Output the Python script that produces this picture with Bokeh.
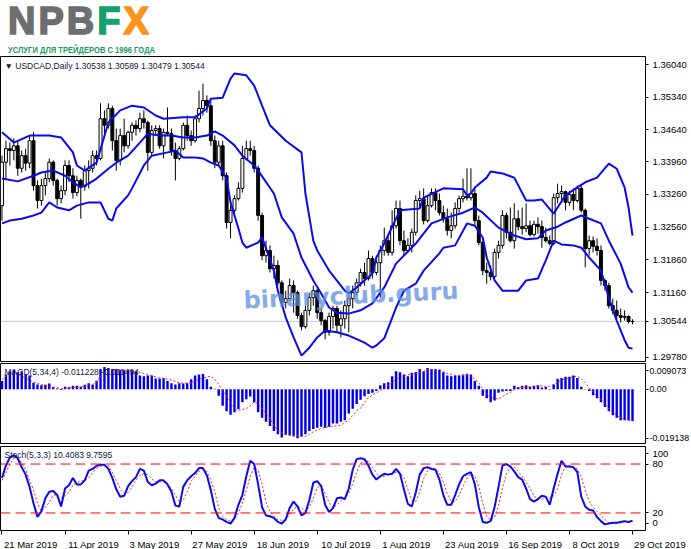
from bokeh.plotting import figure
from bokeh.layouts import column
from bokeh.models import Range1d, FixedTicker, Span, Label, Div
from bokeh.embed import file_html
from bokeh.resources import INLINE

# ---------------- data ----------------
symbol_title = "USDCAD,Daily"
last_ohlc = [1.30538, 1.30589, 1.30479, 1.30544]
logo_parts = [("NPB", "#6d6e70"), ("F", "#16a06c"), ("X", "#f7941d")]
logo_tagline = "УСЛУГИ ДЛЯ ТРЕЙДЕРОВ С 1996 ГОДА"
date_ticks = [0, 16, 32, 48, 64, 80, 96, 112, 128, 144, 160]
date_labels = ["21 Mar 2019", "11 Apr 2019", "3 May 2019", "27 May 2019", "18 Jun 2019",
               "10 Jul 2019", "1 Aug 2019", "23 Aug 2019", "16 Sep 2019", "8 Oct 2019", "29 Oct 2019"]
price_ticks = [1.36040, 1.35340, 1.34640, 1.33960, 1.33260, 1.32560, 1.31860, 1.31160, 1.29780]

opens = [1.3302,1.3395,1.3424,1.3420,1.3430,1.3382,1.3409,1.3393,1.3441,1.3345,
         1.3313,1.3345,1.3360,1.3395,1.3356,1.3317,1.3334,1.3388,1.3366,1.3330,
         1.3356,1.3343,1.3377,1.3382,1.3409,1.3403,1.3488,1.3474,1.3510,1.3441,
         1.3399,1.3452,1.3430,1.3459,1.3474,1.3467,1.3488,1.3480,1.3416,1.3463,
         1.3467,1.3430,1.3459,1.3456,1.3420,1.3403,1.3424,1.3474,1.3452,1.3441,
         1.3488,1.3510,1.3527,1.3516,1.3441,1.3395,1.3430,1.3366,1.3266,1.3292,
         1.3317,1.3339,1.3403,1.3424,1.3420,1.3382,1.3281,1.3195,1.3206,1.3167,
         1.3174,1.3137,1.3095,1.3103,1.3131,1.3116,1.3067,1.3043,1.3078,1.3105,
         1.3120,1.3073,1.3056,1.3031,1.3065,1.3082,1.3046,1.3060,1.3088,1.3103,
         1.3116,1.3137,1.3159,1.3146,1.3189,1.3159,1.3180,1.3206,1.3227,1.3202,
         1.3259,1.3296,1.3227,1.3206,1.3217,1.3245,1.3313,1.3317,1.3270,1.3302,
         1.3330,1.3313,1.3287,1.3274,1.3249,1.3259,1.3296,1.3317,1.3322,1.3319,
         1.3328,1.3270,1.3223,1.3163,1.3159,1.3150,1.3202,1.3217,1.3281,1.3245,
         1.3227,1.3274,1.3257,1.3253,1.3259,1.3240,1.3262,1.3257,1.3234,1.3227,
         1.3221,1.3319,1.3328,1.3332,1.3309,1.3326,1.3313,1.3339,1.3292,1.3210,
         1.3227,1.3215,1.3206,1.3142,1.3131,1.3088,1.3078,1.3067,1.3063,1.3065,1.30538]
highs = [1.3409,1.3441,1.3437,1.3446,1.3441,1.3420,1.3424,1.3452,1.3459,1.3356,
         1.3360,1.3373,1.3403,1.3399,1.3360,1.3345,1.3399,1.3399,1.3382,1.3366,
         1.3360,1.3388,1.3399,1.3420,1.3420,1.3521,1.3506,1.3521,1.3516,1.3467,
         1.3467,1.3488,1.3463,1.3480,1.3484,1.3501,1.3506,1.3484,1.3474,1.3474,
         1.3474,1.3467,1.3512,1.3467,1.3437,1.3430,1.3480,1.3495,1.3463,1.3495,
         1.3548,1.3563,1.3538,1.3527,1.3452,1.3441,1.3441,1.3373,1.3302,1.3324,
         1.3352,1.3430,1.3441,1.3441,1.3430,1.3388,1.3287,1.3227,1.3217,1.3195,
         1.3185,1.3142,1.3120,1.3146,1.3142,1.3120,1.3073,1.3088,1.3116,1.3131,
         1.3125,1.3082,1.3060,1.3073,1.3088,1.3088,1.3078,1.3099,1.3110,1.3131,
         1.3146,1.3167,1.3180,1.3206,1.3195,1.3195,1.3217,1.3255,1.3238,1.3292,
         1.3313,1.3313,1.3249,1.3232,1.3253,1.3324,1.3334,1.3339,1.3324,1.3339,
         1.3339,1.3328,1.3302,1.3296,1.3287,1.3309,1.3324,1.3360,1.3382,1.3382,
         1.3339,1.3281,1.3227,1.3180,1.3174,1.3210,1.3227,1.3292,1.3287,1.3298,
         1.3307,1.3292,1.3298,1.3307,1.3270,1.3270,1.3277,1.3270,1.3255,1.3238,
         1.3328,1.3349,1.3345,1.3334,1.3334,1.3339,1.3345,1.3345,1.3296,1.3238,
         1.3236,1.3232,1.3217,1.3146,1.3137,1.3103,1.3099,1.3082,1.3078,1.3067,1.30589]
lows = [1.3270,1.3360,1.3388,1.3399,1.3366,1.3373,1.3377,1.3382,1.3334,1.3296,
        1.3302,1.3324,1.3352,1.3345,1.3302,1.3307,1.3324,1.3352,1.3317,1.3322,
        1.3274,1.3334,1.3339,1.3373,1.3388,1.3399,1.3446,1.3467,1.3420,1.3377,
        1.3388,1.3416,1.3424,1.3441,1.3452,1.3459,1.3467,1.3377,1.3409,1.3452,
        1.3424,1.3403,1.3452,1.3409,1.3356,1.3399,1.3420,1.3441,1.3430,1.3437,
        1.3480,1.3495,1.3501,1.3430,1.3382,1.3388,1.3356,1.3253,1.3232,1.3281,
        1.3313,1.3330,1.3399,1.3409,1.3373,1.3270,1.3185,1.3180,1.3159,1.3146,
        1.3131,1.3086,1.3082,1.3099,1.3073,1.3060,1.3035,1.3039,1.3067,1.3088,
        1.3060,1.3046,1.3016,1.3024,1.3039,1.3031,1.3020,1.3039,1.3031,1.3082,
        1.3110,1.3129,1.3131,1.3142,1.3146,1.3153,1.3105,1.3195,1.3195,1.3195,
        1.3253,1.3217,1.3195,1.3202,1.3202,1.3238,1.3296,1.3262,1.3266,1.3298,
        1.3292,1.3281,1.3266,1.3238,1.3232,1.3253,1.3287,1.3309,1.3313,1.3313,
        1.3259,1.3217,1.3153,1.3135,1.3142,1.3146,1.3189,1.3210,1.3232,1.3223,
        1.3210,1.3249,1.3240,1.3245,1.3236,1.3236,1.3242,1.3212,1.3223,1.3217,
        1.3217,1.3307,1.3313,1.3292,1.3302,1.3292,1.3309,1.3287,1.3170,1.3195,
        1.3202,1.3195,1.3131,1.3120,1.3082,1.3069,1.3060,1.3052,1.3056,1.3050,1.30479]
closes = [1.3395,1.3424,1.3420,1.3430,1.3382,1.3409,1.3393,1.3441,1.3345,1.3313,
          1.3345,1.3360,1.3395,1.3356,1.3317,1.3334,1.3388,1.3366,1.3330,1.3356,
          1.3343,1.3377,1.3382,1.3409,1.3403,1.3488,1.3474,1.3510,1.3441,1.3399,
          1.3452,1.3430,1.3459,1.3474,1.3467,1.3488,1.3480,1.3416,1.3463,1.3467,
          1.3430,1.3459,1.3456,1.3420,1.3403,1.3424,1.3474,1.3452,1.3441,1.3488,
          1.3510,1.3527,1.3516,1.3441,1.3395,1.3430,1.3366,1.3266,1.3292,1.3317,
          1.3339,1.3403,1.3424,1.3420,1.3382,1.3281,1.3195,1.3206,1.3167,1.3174,
          1.3137,1.3095,1.3103,1.3131,1.3116,1.3067,1.3043,1.3078,1.3105,1.3120,
          1.3073,1.3056,1.3031,1.3065,1.3082,1.3046,1.3060,1.3088,1.3103,1.3116,
          1.3137,1.3159,1.3146,1.3189,1.3159,1.3180,1.3206,1.3227,1.3202,1.3259,
          1.3296,1.3227,1.3206,1.3217,1.3245,1.3313,1.3317,1.3270,1.3302,1.3330,
          1.3313,1.3287,1.3274,1.3249,1.3259,1.3296,1.3317,1.3322,1.3319,1.3328,
          1.3270,1.3223,1.3163,1.3159,1.3150,1.3202,1.3217,1.3281,1.3245,1.3227,
          1.3274,1.3257,1.3253,1.3259,1.3240,1.3262,1.3257,1.3234,1.3227,1.3221,
          1.3319,1.3328,1.3332,1.3309,1.3326,1.3313,1.3339,1.3292,1.3210,1.3227,
          1.3215,1.3206,1.3142,1.3131,1.3088,1.3078,1.3067,1.3063,1.3065,1.3054,1.30544]

bb_up_i = [0,3,7,12,15,18,19,21,24,27,30,33,36,39,41,46,49,52,53,56,58,59,62,64,66,68,72,76,77,79,
           80,83,87,88,90,94,95,97,101,106,107,112,117,118,119,120,123,124,127,130,133,135,137,140,141,
           143,146,148,151,154,156,158,159,160]
bb_up = [1.3459,1.3437,1.3452,1.3452,1.3448,1.3416,1.3388,1.3377,1.3394,1.3480,
         1.3506,1.3516,1.3512,1.3495,1.3488,1.3491,1.3491,1.3510,1.3531,1.3533,
         1.3574,1.3585,1.3581,1.3559,1.3516,1.3474,1.3441,1.3416,1.3328,1.3227,
         1.3206,1.3163,1.3120,1.3114,1.3127,1.3157,1.3191,1.3221,1.3292,1.3296,
         1.3319,1.3339,1.3337,1.3324,1.3328,1.3341,1.3362,1.3375,1.3371,1.3362,
         1.3313,1.3313,1.3315,1.3285,1.3298,1.3324,1.3341,1.3352,1.3362,1.3392,
         1.3381,1.3341,1.3298,1.3238]
bb_mid_i = [0,4,8,10,13,16,18,20,22,24,27,29,32,35,37,40,43,46,49,52,54,56,59,61,64,65,69,71,74,76,
            79,81,83,85,88,91,94,97,100,105,109,113,117,120,122,126,130,133,136,138,141,143,147,149,
            152,154,157,159,160]
bb_mid = [1.3360,1.3354,1.3366,1.3373,1.3377,1.3366,1.3352,1.3341,1.3349,1.3360,
          1.3381,1.3394,1.3409,1.3437,1.3456,1.3452,1.3452,1.3448,1.3448,1.3452,
          1.3461,1.3452,1.3431,1.3409,1.3388,1.3377,1.3328,1.3277,1.3242,1.3191,
          1.3142,1.3114,1.3084,1.3073,1.3071,1.3078,1.3093,1.3127,1.3178,1.3221,
          1.3264,1.3277,1.3287,1.3298,1.3287,1.3255,1.3238,1.3230,1.3232,1.3249,
          1.3257,1.3266,1.3281,1.3274,1.3264,1.3227,1.3178,1.3127,1.3116]
bb_lo_i = [0,2,5,8,10,12,14,17,19,22,25,27,28,29,32,33,36,38,42,44,46,49,51,53,55,57,58,60,61,62,
           65,66,69,70,72,74,76,78,80,82,85,88,92,94,95,97,100,102,105,107,111,112,115,118,120,122,
           123,125,127,131,133,136,138,140,142,145,147,149,152,154,156,158,159,160]
bb_lo = [1.3264,1.3270,1.3274,1.3281,1.3287,1.3309,1.3298,1.3292,1.3302,1.3309,
         1.3309,1.3274,1.3270,1.3296,1.3324,1.3339,1.3388,1.3409,1.3416,1.3420,
         1.3405,1.3405,1.3403,1.3394,1.3388,1.3360,1.3309,1.3253,1.3223,1.3212,
         1.3223,1.3234,1.3163,1.3120,1.3063,1.3020,1.2981,1.2998,1.3020,1.3035,
         1.3031,1.3024,1.3009,1.2998,1.3003,1.3018,1.3084,1.3120,1.3135,1.3163,
         1.3200,1.3212,1.3217,1.3264,1.3259,1.3234,1.3191,1.3142,1.3120,1.3120,
         1.3142,1.3146,1.3185,1.3227,1.3219,1.3217,1.3212,1.3191,1.3163,1.3105,
         1.3056,1.3014,1.2998,1.2996]

macd_title = "MACD(5,34,4) -0.011228 -0.011494"
macd_max, macd_min = 0.009073, -0.019138
macd_hist = [0.0029,0.0052,0.0063,0.0069,0.0060,0.0063,0.0052,0.0048,0.0023,0.0017,
             0.0014,0.0016,0.0020,0.0007,0.0003,-0.0003,0.0009,0.0007,0.0012,0.0012,
             0.0009,0.0016,0.0021,0.0016,0.0030,0.0071,0.0078,0.0075,0.0071,0.0071,
             0.0069,0.0069,0.0069,0.0067,0.0063,0.0048,0.0046,0.0048,0.0048,0.0038,
             0.0038,0.0039,0.0029,0.0021,0.0017,0.0021,0.0020,0.0021,0.0035,0.0048,
             0.0052,0.0054,0.0035,0.0009,0.0002,-0.0023,-0.0058,-0.0078,-0.0090,-0.0081,
             -0.0071,-0.0046,-0.0035,-0.0026,-0.0046,-0.0081,-0.0101,-0.0115,-0.0130,-0.0147,
             -0.0159,-0.0170,-0.0161,-0.0163,-0.0167,-0.0173,-0.0167,-0.0159,-0.0147,-0.0140,
             -0.0136,-0.0132,-0.0136,-0.0132,-0.0121,-0.0121,-0.0115,-0.0109,-0.0086,-0.0069,
             -0.0052,-0.0037,-0.0025,-0.0017,-0.0012,-0.0006,0.0014,0.0021,0.0025,0.0046,
             0.0063,0.0060,0.0052,0.0046,0.0058,0.0061,0.0071,0.0063,0.0075,0.0071,
             0.0071,0.0069,0.0060,0.0048,0.0046,0.0048,0.0048,0.0052,0.0055,0.0052,
             0.0029,0.0012,-0.0023,-0.0032,-0.0046,-0.0040,-0.0012,-0.0008,-0.0006,-0.0006,
             0.0012,0.0008,0.0012,0.0014,0.0008,0.0012,0.0014,0.0006,0.0008,-0.0002,
             0.0017,0.0037,0.0040,0.0044,0.0044,0.0048,0.0040,0.0009,0.0001,-0.0006,
             -0.0021,-0.0032,-0.0046,-0.0063,-0.0078,-0.0092,-0.0101,-0.0109,-0.0109,-0.0109,-0.011228]
macd_signal = [0.0035,0.0046,0.0058,0.0055,0.0052,0.0046,0.0039,0.0032,0.0026,0.0021,
               0.0016,0.0014,0.0012,0.0008,0.0005,0.0002,0.0003,0.0006,0.0006,0.0006,
               0.0008,0.0010,0.0014,0.0017,0.0023,0.0046,0.0055,0.0062,0.0069,0.0068,
               0.0067,0.0067,0.0066,0.0064,0.0063,0.0060,0.0055,0.0052,0.0047,0.0044,
               0.0040,0.0039,0.0035,0.0032,0.0028,0.0023,0.0021,0.0022,0.0023,0.0029,
               0.0035,0.0040,0.0043,0.0046,0.0035,0.0017,-0.0006,-0.0023,-0.0046,-0.0069,
               -0.0075,-0.0071,-0.0069,-0.0058,-0.0044,-0.0052,-0.0069,-0.0086,-0.0104,-0.0127,
               -0.0144,-0.0152,-0.0159,-0.0161,-0.0163,-0.0164,-0.0167,-0.0167,-0.0159,-0.0150,
               -0.0144,-0.0138,-0.0135,-0.0132,-0.0130,-0.0129,-0.0127,-0.0117,-0.0109,-0.0092,
               -0.0075,-0.0067,-0.0046,-0.0029,-0.0021,-0.0012,-0.0006,0.0003,0.0014,0.0023,
               0.0035,0.0040,0.0046,0.0051,0.0053,0.0055,0.0058,0.0063,0.0069,0.0069,
               0.0069,0.0069,0.0063,0.0055,0.0053,0.0049,0.0048,0.0049,0.0052,0.0046,
               0.0035,0.0023,0.0000,-0.0017,-0.0029,-0.0032,-0.0035,-0.0026,-0.0017,-0.0012,
               -0.0002,0.0006,0.0007,0.0008,0.0009,0.0010,0.0012,0.0012,0.0010,0.0009,
               0.0017,0.0025,0.0032,0.0037,0.0040,0.0044,0.0046,0.0037,0.0023,0.0006,
               -0.0009,-0.0025,-0.0035,-0.0052,-0.0069,-0.0081,-0.0092,-0.0100,-0.0107,-0.0110,-0.011494]

stoch_title = "Stoch(5,3,3) 10.4083 9.7595"
stoch_levels = [80, 20]
stoch_main = [63,78,88,91,87,76,67,52,32,15, 22,38,46,47,42,28,50,54,63,55,
              55,60,72,74,78,79,79,74,63,49, 40,41,53,59,64,74,72,58,54,56,
              60,60,55,46,29,28,52,60,65,69, 75,75,66,48,25,14,12,9,7,14,
              30,42,65,84,80,55,27,17,16,14, 9,7,12,26,34,28,17,20,36,57,
              59,53,30,21,26,38,39,37,50,73, 86,87,86,78,67,61,65,68,67,68,
              74,68,49,31,28,45,67,75,76,74, 73,61,42,30,30,42,55,65,68,70,
              55,27,9,8,10,27,52,78,80,77, 71,64,61,50,37,34,37,41,40,30,
              50,68,84,77,77,76,70,40,28,24, 23,15,10,6,7,8,8,9,10,9,10.4083]
stoch_signal = [60,69,80,87,86,82,73,60,48,32, 22,27,33,42,42,38,41,46,54,57,
                59,60,63,69,75,77,78,78,70,60, 50,44,45,52,60,66,68,67,62,58,
                58,58,56,50,42,33,36,46,59,65, 71,73,71,60,46,26,16,12,10,12,
                20,32,48,65,76,72,55,33,22,16, 12,11,12,18,25,28,26,22,27,38,
                51,54,44,33,26,30,35,38,44,56, 70,81,85,83,76,69,64,65,67,68,
                70,70,63,49,36,34,46,62,72,75, 74,69,58,44,34,34,42,53,63,68,
                65,52,32,16,11,15,29,51,68,76, 76,71,65,58,50,41,37,37,39,38,
                41,50,67,77,78,76,74,64,48,34, 27,22,17,12,8,7,7,8,9,9,9.7595]

# ---------------- layout / style ----------------
FRAME_W = 645
RIGHT = 46
AX_FONT = "Liberation Sans"
X0, X1 = -0.38, 163.3
UNITS_PER_PX = (X1 - X0) / FRAME_W
x_range = Range1d(X0, X1)
n = len(closes)
idx = list(range(n))


def make_fig(frame_h, y_range, top, bottom, label_px="9.5px", standoff=4):
    p = figure(frame_width=FRAME_W, frame_height=frame_h, x_range=x_range, y_range=y_range,
               output_backend="svg", toolbar_location=None, y_axis_location="right",
               min_border_left=0, min_border_right=RIGHT, min_border_top=top,
               min_border_bottom=bottom)
    p.outline_line_color = "black"
    p.outline_line_alpha = 1.0
    p.outline_line_width = 1
    p.grid.visible = False
    p.background_fill_color = "white"
    p.border_fill_color = "white"
    ya = p.yaxis[0]
    ya.axis_line_color = None
    ya.major_tick_out = 3
    ya.major_tick_in = 0
    ya.minor_tick_out = 0
    ya.minor_tick_in = 0
    ya.major_tick_line_color = "black"
    ya.major_label_standoff = standoff
    ya.major_label_text_font = AX_FONT
    ya.major_label_text_font_size = label_px
    ya.major_label_text_color = "black"
    return p


# ---- logo (HTML block above the chart) ----
LOGO_W = FRAME_W + RIGHT
LOGO_H = 55
letters = "".join(
    f'<span style="color:{c};-webkit-text-stroke:1.6px {c};">{t}</span>' for t, c in logo_parts)
logo_html = (
    f'<div style="position:relative;width:{LOGO_W}px;height:{LOGO_H}px;overflow:hidden;'
    f'font-family:\'Liberation Sans\',Arial,sans-serif;">'
    f'<div style="position:absolute;left:8px;top:0px;font-size:38px;font-weight:bold;'
    f'line-height:43px;height:43px;letter-spacing:3px;white-space:nowrap;">{letters}</div>'
    f'<div style="position:absolute;left:8px;top:43.5px;font-size:9.5px;font-weight:bold;'
    f'line-height:11px;height:11px;color:#1a9b5a;white-space:nowrap;transform:scaleX(0.8);'
    f'transform-origin:left top;">{logo_tagline}</div></div>'
)
logo = Div(text=logo_html, width=LOGO_W, height=LOGO_H, margin=(0, 0, 0, 0))

# ---- main price panel ----
Y0, Y1 = 1.29685, 1.36212
main = make_fig(305, Range1d(Y0, Y1), 1, 1)
main.xaxis.visible = False
axis_ticks = price_ticks + [last_ohlc[3]]
main.yaxis[0].ticker = FixedTicker(ticks=axis_ticks)
main.yaxis[0].major_label_overrides = {t: f"{t:.5f}" for t in axis_ticks}

main.add_layout(Span(location=closes[-1], dimension="width", line_color="#c8c8c8",
                     line_width=1, level="underlay"))

main.segment(x0=idx, y0=lows, x1=idx, y1=highs, line_color="black", line_width=1)
bull = [i for i in idx if closes[i] >= opens[i]]
bear = [i for i in idx if closes[i] < opens[i]]
main.vbar(x=bull, width=0.74, top=[closes[i] for i in bull], bottom=[opens[i] for i in bull],
          fill_color="white", line_color="black", line_width=1)
main.vbar(x=bear, width=0.74, top=[opens[i] for i in bear], bottom=[closes[i] for i in bear],
          fill_color="black", line_color="black", line_width=1)

for bx, by in ((bb_up_i, bb_up), (bb_mid_i, bb_mid), (bb_lo_i, bb_lo)):
    main.line(bx, by, line_color="#0a0af0", line_width=2)

main.add_layout(Label(x=61.3, y=1.3099, text="binaryclub.guru", angle=0.045,
                      text_font="DejaVu Sans", text_font_style="bold",
                      text_font_size="24px", text_color="#5b8ee0", text_alpha=0.75,
                      text_baseline="alphabetic"))
main.add_layout(Label(x=X0, y=Y1, x_offset=4, y_offset=-4,
                      text="\u25bc " + symbol_title + "  " + " ".join(f"{v:.5f}" for v in last_ohlc),
                      text_font=AX_FONT, text_font_size="8.5px", text_color="#10183a",
                      text_baseline="top"))

# ---- MACD panel ----
M_FRAME = 80
macd = make_fig(M_FRAME, Range1d(macd_min, macd_max), 1, 1, label_px="8.8px", standoff=1)
macd.xaxis.visible = False
px = (macd_max - macd_min) / M_FRAME
t_top = round(macd_max - 7 * px, 5)
t_bot = round(macd_min + 5 * px, 5)
macd.yaxis[0].ticker = FixedTicker(ticks=[t_top, 0, t_bot])
macd.yaxis[0].major_label_overrides = {t_top: f"{macd_max:.6f}", 0: "0.00", t_bot: f"{macd_min:.6f}"}
macd.vbar(x=idx, width=0.62, top=macd_hist, bottom=0, fill_color="#0000ee", line_color=None)
macd.line(idx, macd_signal, line_color="#ff2020", line_width=1, line_dash="2 2")
macd.add_layout(Label(x=X0, y=macd_max, x_offset=4, y_offset=-3, text=macd_title,
                      text_font=AX_FONT, text_font_size="8.5px", text_color="#10183a",
                      text_baseline="top"))

# ---- Stochastic panel ----
S_FRAME = 84
stoch = make_fig(S_FRAME, Range1d(-1.5, 101.5), 2, 0)
sp = 103.0 / S_FRAME
s_top = round(100 - 6 * sp, 2)
s_bot = round(0 + 6 * sp, 2)
stoch.yaxis[0].ticker = FixedTicker(ticks=[s_top, 80, 20, s_bot])
stoch.yaxis[0].major_label_overrides = {s_top: "100", 80: "80", 20: "20", s_bot: "0"}
for lv in stoch_levels:
    stoch.add_layout(Span(location=lv, dimension="width", line_color="#ff0000",
                          line_width=1, line_dash="10 5"))
stoch.line(idx, stoch_signal, line_color="#ff2020", line_width=1, line_dash="2 2")
stoch.line(idx, stoch_main, line_color="#0a0af0", line_width=2)
stoch.add_layout(Label(x=X0, y=101.5, x_offset=4, y_offset=-3, text=stoch_title,
                       text_font=AX_FONT, text_font_size="8.5px", text_color="#10183a",
                       text_baseline="top"))

# date labels sit just to the right of their tick marks (MT4 style):
# labels are centred on shifted positions, the real tick marks are drawn as minor ticks
label_pos, label_txt = [], []
for t, s in zip(date_ticks, date_labels):
    shifted = t + (len(s) * 4.85 / 2 + 2) * UNITS_PER_PX
    if shifted > X1 - 0.01:
        shifted = X1 - 0.01
        s = "\u00a0" * 11 + s
    label_pos.append(round(shifted, 3))
    label_txt.append(s)
xa = stoch.xaxis[0]
xa.ticker = FixedTicker(ticks=label_pos, minor_ticks=date_ticks)
xa.major_label_overrides = {pos: s for pos, s in zip(label_pos, label_txt)}
xa.axis_line_color = None
xa.major_tick_out = 0
xa.major_tick_in = 0
xa.minor_tick_out = 4
xa.minor_tick_in = 0
xa.minor_tick_line_color = "black"
xa.major_label_standoff = 4
xa.major_label_text_font = AX_FONT
xa.major_label_text_font_size = "9.5px"
xa.major_label_text_color = "black"

page = column(logo, main, macd, stoch, spacing=0)
open("out.html", "w").write(file_html(page, INLINE))
